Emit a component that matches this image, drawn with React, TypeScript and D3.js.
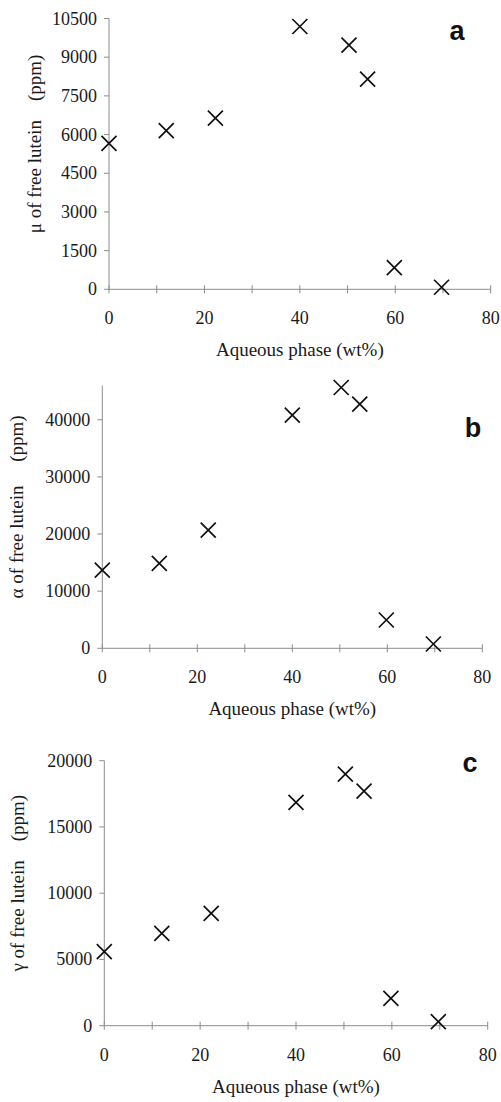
import React from 'react';
import * as d3 from 'd3';

// aqueous phase (wt%) of each sample
const aqueous = [0, 12, 22.3, 40, 50.3, 54.2, 59.8, 69.7];

// free lutein results (ppm)
const muValues = [5660, 6150, 6640, 10190, 9470, 8150, 840, 80];
const alphaValues = [13700, 14870, 20700, 40800, 45650, 42750, 4950, 750];
const gammaValues = [5590, 6970, 8480, 16860, 18990, 17710, 2060, 300];

const xTicks = [0, 10, 20, 30, 40, 50, 60, 70, 80];
const xLabels = [0, 20, 40, 60, 80];
const muTicks = [0, 1500, 3000, 4500, 6000, 7500, 9000, 10500];
const alphaTicks = [0, 10000, 20000, 30000, 40000];
const gammaTicks = [0, 5000, 10000, 15000, 20000];

const xTitle = 'Aqueous phase (wt%)';

interface PanelProps {
    values: number[];
    yMax: number;
    yTicks: number[];
    yTitle: string;
    letter: string;
    left: number;
    right: number;
    top: number;
    bottom: number;
    yTitleX: number;
    letterX: number;
    letterY: number;
}

const serif = '"Liberation Serif", "Times New Roman", serif';
const axisColor = '#8c8c8c';
const textColor = '#1a1a1a';

const Panel: React.FC<PanelProps> = (p) => {
    const x = d3.scaleLinear().domain([0, 80]).range([p.left, p.right]);
    const y = d3.scaleLinear().domain([0, p.yMax]).range([p.bottom, p.top]);
    const s = 7.5; // half size of the cross marker

    return (
        <g>
            {/* axes */}
            <line x1={p.left} x2={p.right} y1={p.bottom} y2={p.bottom} stroke={axisColor} strokeWidth={1} />
            <line x1={p.left} x2={p.left} y1={p.top} y2={p.bottom} stroke={axisColor} strokeWidth={1} />
            {xTicks.map((t) => (
                <line key={'xt' + t} x1={x(t)} x2={x(t)} y1={p.bottom - 4} y2={p.bottom + 4} stroke={axisColor} strokeWidth={1} />
            ))}
            {xLabels.map((t) => (
                <text key={'xl' + t} x={x(t)} y={p.bottom + 35} textAnchor="middle" fontFamily={serif} fontSize={18} fill={textColor}>
                    {t}
                </text>
            ))}
            {p.yTicks.map((t) => (
                <g key={'yt' + t}>
                    <line x1={p.left - 5} x2={p.left} y1={y(t)} y2={y(t)} stroke={axisColor} strokeWidth={1} />
                    <text x={p.left - 12} y={y(t) + 6} textAnchor="end" fontFamily={serif} fontSize={18} fill={textColor}>
                        {t}
                    </text>
                </g>
            ))}
            {/* axis titles */}
            <text x={(p.left + p.right) / 2} y={p.bottom + 67} textAnchor="middle" fontFamily={serif} fontSize={19} fill={textColor}>
                {xTitle}
            </text>
            <text
                transform={`translate(${p.yTitleX}, ${(p.top + p.bottom) / 2 - 10}) rotate(-90)`}
                textAnchor="middle"
                fontFamily={serif}
                fontSize={19}
                fill={textColor}
                style={{ whiteSpace: 'pre' }}
            >
                {p.yTitle}
            </text>
            <text x={p.letterX} y={p.letterY} textAnchor="middle" fontFamily='"Liberation Sans", Arial, sans-serif' fontWeight="bold" fontSize={27} fill="#111">
                {p.letter}
            </text>
            {/* points */}
            {p.values.map((v, i) => (
                <path
                    key={'pt' + i}
                    d={`M${x(aqueous[i]) - s},${y(v) - s}L${x(aqueous[i]) + s},${y(v) + s}M${x(aqueous[i]) - s},${y(v) + s}L${x(aqueous[i]) + s},${y(v) - s}`}
                    stroke="#111"
                    strokeWidth={1.7}
                    fill="none"
                />
            ))}
        </g>
    );
};

const App: React.FC = () => {
    return (
        <svg width={501} height={1102} style={{ position: 'absolute', left: 0, top: 0, background: '#fff' }}>
            <rect width={501} height={1102} fill="#fff" />
            <Panel
                values={muValues} yMax={10500} yTicks={muTicks} yTitle={'\u03bc of free lutein    (ppm)'} letter="a"
                left={109} right={490.7} top={18.5} bottom={289.3} yTitleX={41} letterX={457} letterY={40}
            />
            <Panel
                values={alphaValues} yMax={46000} yTicks={alphaTicks} yTitle={'\u03b1 of free lutein     (ppm)'} letter="b"
                left={102.3} right={482.3} top={385.5} bottom={648.3} yTitleX={23} letterX={473} letterY={437}
            />
            <Panel
                values={gammaValues} yMax={20000} yTicks={gammaTicks} yTitle={'\u03b3 of free lutein    (ppm)'} letter="c"
                left={104.3} right={487.7} top={760.7} bottom={1025.7} yTitleX={24} letterX={470} letterY={772}
            />
        </svg>
    );
};

export default App;
